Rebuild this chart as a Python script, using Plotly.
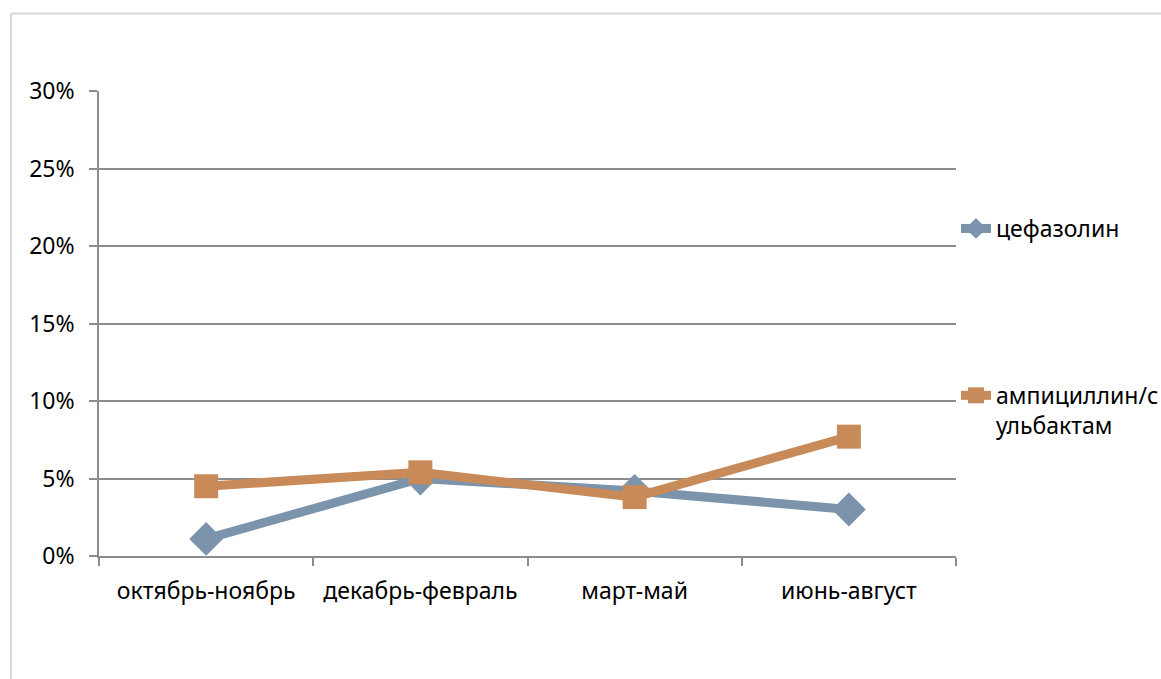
import plotly.graph_objects as go

# Seasonal share of resistant isolates by antibiotic
seasons = ["октябрь-ноябрь", "декабрь-февраль", "март-май", "июнь-август"]
cefazolin = [0.011, 0.050, 0.042, 0.030]
ampicillin_sulbactam = [0.045, 0.054, 0.038, 0.077]
y_ticks = [0, 0.05, 0.10, 0.15, 0.20, 0.25, 0.30]

W, H = 1161, 679
L, R, T, B = 99, 205, 91, 123
pw, ph = W - L - R, H - T - B

def px(x):
    return (x - L) / pw

def py(y):
    return (H - B - y) / ph

FONT = "Noto Sans"
FS = 23
GRID = "#8c8c8c"

fig = go.Figure()
fig.add_trace(go.Scatter(
    x=seasons, y=cefazolin, name="цефазолин", mode="lines+markers",
    line=dict(color="#7b93ab", width=9),
    marker=dict(symbol="diamond", size=26, color="#7b93ab"),
    legendgroup="a",
))
fig.add_trace(go.Scatter(
    x=seasons, y=ampicillin_sulbactam, name="ампициллин/с<br>ульбактам",
    mode="lines+markers",
    line=dict(color="#c98a5a", width=9),
    marker=dict(symbol="square", size=24, color="#c98a5a"),
    legendgroup="b",
))

fig.update_layout(
    width=W, height=H,
    margin=dict(l=L, r=R, t=T, b=B, autoexpand=False),
    paper_bgcolor="white", plot_bgcolor="white",
    font=dict(family=FONT, size=FS, color="#000000"),
    hovermode=False,
    legend=dict(
        x=px(956), y=py(207), xanchor="left", yanchor="top",
        traceorder="grouped", tracegroupgap=134, valign="top",
        font=dict(family=FONT, size=FS, color="#000000"),
        bgcolor="rgba(0,0,0,0)",
    ),
    xaxis=dict(
        type="category", range=[-0.5, 3.5], tickson="boundaries",
        ticks="outside", ticklen=8, tickcolor=GRID, tickwidth=1.5,
        showline=True, linecolor=GRID, linewidth=1.5,
        showgrid=False, zeroline=False,
        tickfont=dict(family=FONT, size=FS), ticklabelstandoff=14,
        fixedrange=True,
    ),
    yaxis=dict(
        range=[0, 0.30], tickvals=y_ticks, tickformat=".0%",
        ticks="outside", ticklen=8, tickcolor=GRID, tickwidth=1.5,
        showline=True, linecolor=GRID, linewidth=1.5,
        showgrid=True, gridcolor=GRID, gridwidth=1.5,
        zeroline=False, tickfont=dict(family=FONT, size=FS),
        ticklabelstandoff=10, fixedrange=True,
    ),
    shapes=[
        dict(type="line", xref="paper", yref="paper",
             x0=px(11), x1=px(W), y0=py(13.5), y1=py(13.5),
             line=dict(color="#d9d9d9", width=2)),
        dict(type="line", xref="paper", yref="paper",
             x0=px(11), x1=px(11), y0=py(13.5), y1=py(H),
             line=dict(color="#d9d9d9", width=2)),
    ],
)

fig.write_html("out.html")
